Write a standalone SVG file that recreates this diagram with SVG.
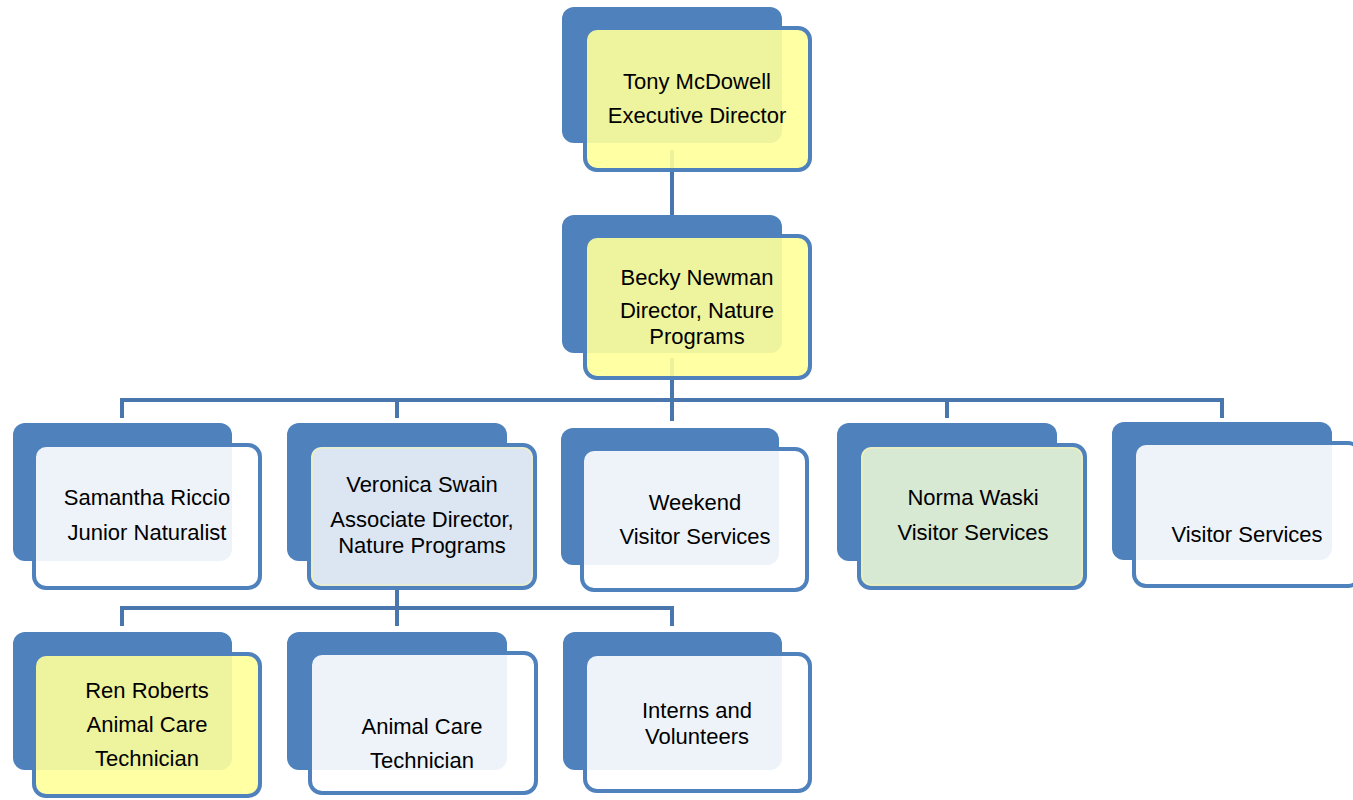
<svg xmlns="http://www.w3.org/2000/svg" width="1353" height="800" viewBox="0 0 1353 800">
<style>
.back{fill:#4F81BD}
.front{stroke:#4F81BD;stroke-width:4}
.white{fill:#FFFFFF;fill-opacity:0.9}
.yellow{fill:#FFFF99;fill-opacity:0.9}
.blue{fill:#DCE6F2}
.green{fill:#D7E8D3}
.inner{fill:none;stroke:#F2F2B5;stroke-width:1.2}
.conn{fill:none;stroke:#4A76AE;stroke-width:4}
text{font-family:"Liberation Sans",Arial,sans-serif;font-size:22px;fill:#000;text-anchor:middle}
</style>
<rect width="1353" height="800" fill="#FFFFFF"/>
<g id="backs">
<rect class="back" x="562" y="7" width="220" height="136" rx="12"/>
<rect class="back" x="562" y="215" width="220" height="138" rx="12"/>
<rect class="back" x="13" y="423" width="219" height="138" rx="12"/>
<rect class="back" x="287" y="423" width="220" height="138" rx="12"/>
<rect class="back" x="561" y="428" width="218" height="137" rx="12"/>
<rect class="back" x="837" y="423" width="220" height="138" rx="12"/>
<rect class="back" x="1112" y="422" width="220" height="138" rx="12"/>
<rect class="back" x="13" y="632" width="219" height="138" rx="12"/>
<rect class="back" x="287" y="632" width="220" height="138" rx="12"/>
<rect class="back" x="563" y="632" width="219" height="138" rx="12"/>
</g>
<g id="connectors">
<path class="conn" d="M672 150V215"/>
<path class="conn" d="M672 358V421"/>
<path class="conn" d="M122 418V400H1222V418"/>
<path class="conn" d="M397 400V418"/>
<path class="conn" d="M947 400V418"/>
<path class="conn" d="M397 580V608"/>
<path class="conn" d="M122 626V608H672V626"/>
<path class="conn" d="M397 608V626"/>
</g>
<g id="node-tony">
<rect class="front yellow" x="585" y="28" width="225" height="142" rx="12"/>
<text x="697" y="89">Tony McDowell</text>
<text x="697" y="123">Executive Director</text>
</g>
<g id="node-becky">
<rect class="front yellow" x="585" y="236" width="225" height="142" rx="12"/>
<text x="697" y="285">Becky Newman</text>
<text x="697" y="318">Director, Nature</text>
<text x="697" y="344">Programs</text>
</g>
<g id="node-samantha">
<rect class="front white" x="34" y="445" width="226" height="143" rx="12"/>
<text x="147" y="505">Samantha Riccio</text>
<text x="147" y="540">Junior Naturalist</text>
</g>
<g id="node-veronica">
<rect class="front blue" x="309" y="445" width="226" height="143" rx="12"/>
<rect class="inner" x="312" y="448" width="220" height="137" rx="10"/>
<text x="422" y="492">Veronica Swain</text>
<text x="422" y="527">Associate Director,</text>
<text x="422" y="553">Nature Programs</text>
</g>
<g id="node-weekend">
<rect class="front white" x="582" y="449" width="225" height="141" rx="12"/>
<text x="695" y="510">Weekend</text>
<text x="695" y="544">Visitor Services</text>
</g>
<g id="node-norma">
<rect class="front green" x="859" y="445" width="226" height="143" rx="12"/>
<rect class="inner" x="862" y="448" width="220" height="137" rx="10"/>
<text x="973" y="505">Norma Waski</text>
<text x="973" y="540">Visitor Services</text>
</g>
<g id="node-visitor">
<rect class="front white" x="1134" y="443" width="226" height="143" rx="12"/>
<text x="1247" y="542">Visitor Services</text>
</g>
<g id="node-ren">
<rect class="front yellow" x="34" y="654" width="226" height="142" rx="12"/>
<text x="147" y="698">Ren Roberts</text>
<text x="147" y="732">Animal Care</text>
<text x="147" y="766">Technician</text>
</g>
<g id="node-animal">
<rect class="front white" x="310" y="653" width="226" height="140" rx="12"/>
<text x="422" y="734">Animal Care</text>
<text x="422" y="768">Technician</text>
</g>
<g id="node-interns">
<rect class="front white" x="585" y="654" width="225" height="137" rx="12"/>
<text x="697" y="718">Interns and</text>
<text x="697" y="744">Volunteers</text>
</g>
</svg>
